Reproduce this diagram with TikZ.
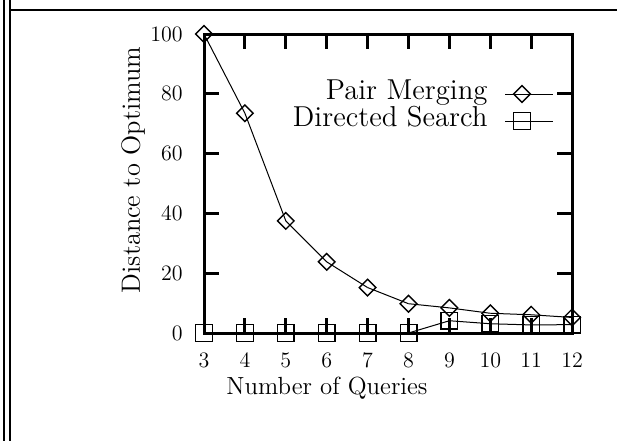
\documentclass[tikz,border=0pt]{standalone}
\usepackage{tikz}
\usetikzlibrary{shapes.geometric}

\newcommand{\pmdata}{3/100,4/73.5,5/37.5,6/23.8,7/15.2,8/9.8,9/8.4,10/6.6,11/6.1,12/5.2}
\newcommand{\dsdata}{3/0,4/0,5/0,6/0,7/0,8/0,9/4.1,10/3.1,11/2.7,12/2.8}

\begin{document}
\begin{tikzpicture}[x=0.5pt,y=-0.5pt,
	txt/.style={font=\fontsize{11}{12}\selectfont,inner sep=0pt},
	bigtxt/.style={font=\fontsize{#1}{16}\selectfont,inner sep=0pt},
	diam/.style={draw,diamond,line width=.7pt,inner sep=0pt,minimum size=8.6pt},
	sqr/.style={draw,rectangle,line width=.7pt,inner sep=0pt,minimum size=8.3pt},
	plotline/.style={line width=.5pt}
]
	\useasboundingbox (0,0) rectangle (617,441);

	% page frame
	\draw[line width=1.1pt] (4,0) -- (4,441) (10,0) -- (10,441) (10,10) -- (617,10);

	\begin{scope}[shift={(204,333)},x=20.45pt,y=1.495pt]
		\draw[line width=1.5pt] (0,0) -- (9,0) -- (9,100) -- (0,100) -- cycle;
		\foreach \q in {1,...,8} {
			\draw[line width=1.5pt] (\q,0) -- ++(0pt,7.5pt) (\q,100) -- ++(0pt,-7.5pt);
		}
		\foreach \v in {20,40,60,80} {
			\draw[line width=1.5pt] (0,\v) -- ++(7.5pt,0pt) (9,\v) -- ++(-7.5pt,0pt);
		}

		% tick labels
		\foreach \v in {0,20,...,100} {
			\node[txt,anchor=east] (ytick\v) at ([xshift=-10.5pt]0,\v) {\v};
		}
		\foreach \q in {3,...,12} {
			\node[txt] (xtick\q) at ([yshift=-13.5pt]\q-3,0) {\q};
		}

		% Pair Merging
		\foreach \q/\v in \pmdata {
			\node[diam] (pm\q) at (\q-3,\v) {};
		}
		% Directed Search
		\foreach \q/\v in \dsdata {
			\node[sqr] (ds\q) at (\q-3,\v) {};
		}
		\foreach \q in {3,...,11} {
			\pgfmathtruncatemacro{\r}{\q+1}
			\draw[plotline] (pm\q.center) -- (pm\r.center);
			\draw[plotline] (ds\q.center) -- (ds\r.center);
		}
	\end{scope}

	% axis titles
	\node[bigtxt=12.4,anchor=base] (xtitle) at (327,394) {Number of Queries};
	\node[bigtxt=13.2,anchor=base,rotate=90] (ytitle) at (140,170) {Distance to Optimum};

	% key
	\node[bigtxt=14.4,anchor=base east] (pmkey) at (488,99) {Pair Merging};
	\node[bigtxt=14.4,anchor=base east] (dskey) at (488,126) {Directed Search};
	\coordinate (pmA) at (505,94);
	\coordinate (pmB) at (553,94);
	\coordinate (dsA) at (505,121);
	\coordinate (dsB) at (553,121);
	\node[diam] (pmmark) at (522,94) {};
	\node[sqr] (dsmark) at (522,121) {};
	\draw[plotline] (pmA) -- (pmB);
	\draw[plotline] (dsA) -- (dsB);
\end{tikzpicture}
\end{document}
